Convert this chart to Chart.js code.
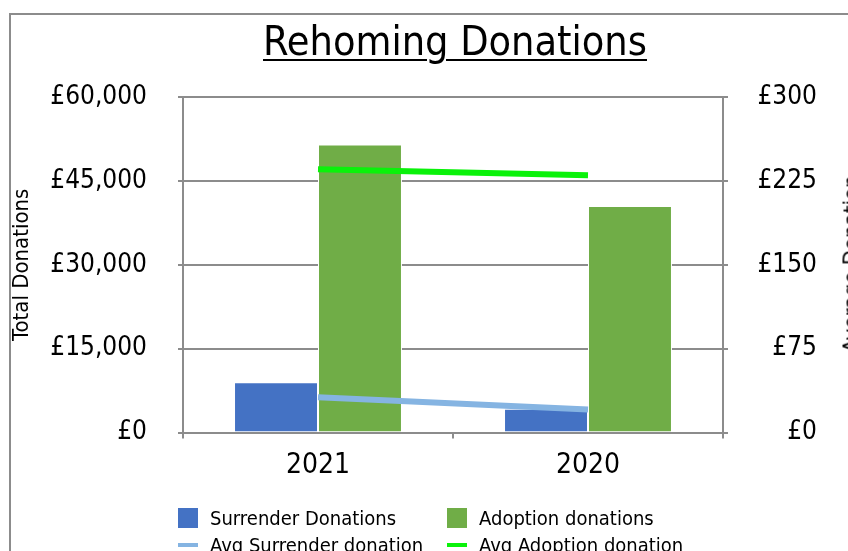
<!DOCTYPE html>
<html>
<head>
<meta charset="utf-8">
<script src="https://cdn.jsdelivr.net/npm/chart.js@4"></script>
<style>
  html, body { margin: 0; padding: 0; background: #fff; }
  body { width: 848px; height: 551px; overflow: hidden; position: relative;
         font-family: "DejaVu Sans Condensed", "Liberation Sans Narrow", sans-serif; }
  #frame { position: absolute; left: 9px; top: 13px; width: 900px; height: 600px;
           border-left: 2px solid #8c8c8c; border-top: 2px solid #8c8c8c; }
  #chart { position: absolute; left: 0; top: 0; }
  #title { position: absolute; left: 0; width: 910px; top: 17px; text-align: center;
           font-size: 41px; color: #000; }
  #title span { text-decoration: underline; text-decoration-thickness: 2px; text-underline-offset: 4px; }
  #rightTitle { position: absolute; left: 851px; top: 264px; font-size: 22px; white-space: nowrap;
                transform: translate(-50%, -50%) rotate(-90deg); }
  .leg { position: absolute; font-size: 20px; color: #000; white-space: nowrap; }
  .leg i { position: absolute; left: -32px; }
</style>
</head>
<body>
<div id="frame"></div>
<canvas id="chart" width="848" height="551"></canvas>
<div id="title"><span>Rehoming Donations</span></div>
<div id="rightTitle">Average Donation</div>
<div id="legend"></div>
<script>
const years = ["2021", "2020"];
const surrenderTotals = [9000, 4250];
const adoptionTotals = [51500, 40500];
const avgSurrender = [31.5, 20.5];
const avgAdoption = [235.5, 230];

const FONT = '"DejaVu Sans Condensed", "Liberation Sans Narrow", sans-serif';
const GRID = "#8c8c8c";
const pounds = (v) => "£" + Number(v).toLocaleString("en-GB");

const datasets = [
  { type: "bar", label: "Surrender Donations", data: surrenderTotals, yAxisID: "y",
    backgroundColor: "#4472c4", borderColor: "#ffffff", borderWidth: 1, order: 2 },
  { type: "bar", label: "Adoption donations", data: adoptionTotals, yAxisID: "y",
    backgroundColor: "#70ad47", borderColor: "#ffffff", borderWidth: 1, order: 2 },
  { type: "line", label: "Avg Surrender donation", data: avgSurrender, yAxisID: "y1",
    borderColor: "#85b4e2", backgroundColor: "#85b4e2", borderWidth: 6, pointRadius: 0, order: 1 },
  { type: "line", label: "Avg Adoption donation", data: avgAdoption, yAxisID: "y1",
    borderColor: "#0af20a", backgroundColor: "#0af20a", borderWidth: 6, pointRadius: 0, order: 1 },
];

new Chart(document.getElementById("chart").getContext("2d"), {
  data: { labels: years, datasets: datasets },
  options: {
    responsive: false,
    animation: false,
    layout: { padding: { left: 0, right: 31, top: 97, bottom: 0 } },
    datasets: { bar: { categoryPercentage: 0.622, barPercentage: 1 } },
    plugins: { legend: { display: false }, tooltip: { enabled: false } },
    scales: {
      x: {
        grid: { drawOnChartArea: false, color: GRID, lineWidth: 2, tickLength: 6, offset: true },
        border: { color: GRID, width: 2 },
        ticks: { color: "#000", font: { family: FONT, size: 28 }, padding: 10 },
        afterFit: (s) => { s.height = 118.5; },
      },
      y: {
        position: "left", min: 0, max: 60000,
        grid: { color: GRID, lineWidth: 2, tickLength: 5 },
        border: { color: GRID, width: 2 },
        ticks: { stepSize: 15000, color: "#000", font: { family: FONT, size: 26 }, padding: 31,
                 callback: (v) => pounds(v) },
        title: { display: true, text: "Total Donations", color: "#000",
                 font: { family: FONT, size: 22 }, padding: { top: 9, bottom: 0 } },
        afterFit: (s) => { s.width = 183; },
      },
      y1: {
        position: "right", min: 0, max: 300,
        grid: { drawOnChartArea: false, color: GRID, lineWidth: 2, tickLength: 5 },
        border: { color: GRID, width: 2 },
        ticks: { stepSize: 75, color: "#000", font: { family: FONT, size: 26 }, crossAlign: "far",
                 callback: (v) => pounds(v) },
        afterFit: (s) => { s.width = 94; },
      },
    },
  },
});

// legend, 2 columns like the original
const legend = document.getElementById("legend");
const cols = [210, 479];
const rows = [518, 545];
datasets.forEach((ds, i) => {
  const el = document.createElement("div");
  el.className = "leg";
  el.style.left = cols[i % 2] + "px";
  el.style.top = (rows[Math.floor(i / 2)] - 12) + "px";
  const mark = document.createElement("i");
  if (ds.type === "bar") {
    mark.style.cssText = `top:2px;width:20px;height:20px;background:${ds.backgroundColor};`;
  } else {
    mark.style.cssText = `top:10px;width:20px;height:4px;background:${ds.borderColor};`;
  }
  el.appendChild(mark);
  el.appendChild(document.createTextNode(ds.label));
  legend.appendChild(el);
});
</script>
</body>
</html>
